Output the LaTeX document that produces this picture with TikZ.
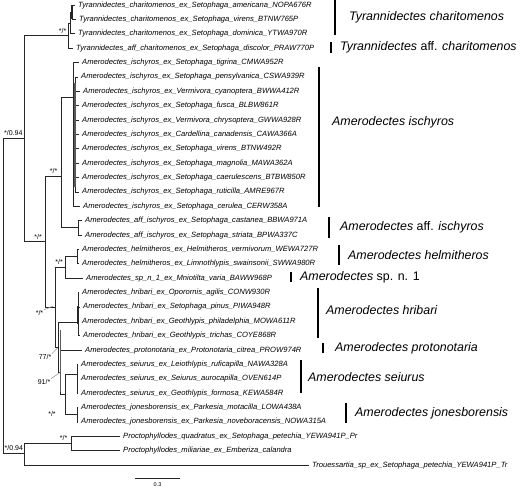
\documentclass[tikz,border=0pt]{standalone}
\usepackage{fontspec}
\setmainfont{Liberation Sans}
\begin{document}
\begin{tikzpicture}[x=1pt,y=-1pt,
  tree/.style={draw=black!85,line width=0.75pt},
  thickv/.style={draw=black!65,line width=1.6pt},
  leaf/.style={anchor=west,inner xsep=3pt,inner ysep=0pt,font=\fontsize{7.6}{9}\selectfont\itshape,text height=5.6pt,text depth=1.6pt},
  clade/.style={anchor=west,inner sep=0pt,font=\fontsize{12.4}{14}\selectfont\itshape},
  cbar/.style={draw=black,line width=1.4pt},
  sup/.style={inner sep=0.5pt,font=\fontsize{7}{8}\selectfont},
  lead/.style={draw=black!45,line width=0.5pt}]
\useasboundingbox (0,0) rectangle (520,488);
% ---- leaves
\node[leaf] (l1) at (75,5) {Tyrannidectes\_charitomenos\_ex\_Setophaga\_americana\_NOPA676R};
\node[leaf] (l2) at (76,19.4) {Tyrannidectes\_charitomenos\_ex\_Setophaga\_virens\_BTNW765P};
\node[leaf] (l3) at (75,33.8) {Tyrannidectes\_charitomenos\_ex\_Setophaga\_dominica\_YTWA970R};
\node[leaf] (l4) at (73,48.1) {Tyrannidectes\_aff\_charitomenos\_ex\_Setophaga\_discolor\_PRAW770P};
\node[leaf] (l5) at (79,62.5) {Amerodectes\_ischyros\_ex\_Setophaga\_tigrina\_CMWA952R};
\node[leaf] (l6) at (78,76.9) {Amerodectes\_ischyros\_ex\_Setophaga\_pensylvanica\_CSWA939R};
\node[leaf] (l7) at (80,91.3) {Amerodectes\_ischyros\_ex\_Vermivora\_cyanoptera\_BWWA412R};
\node[leaf] (l8) at (79,105.6) {Amerodectes\_ischyros\_ex\_Setophaga\_fusca\_BLBW861R};
\node[leaf] (l9) at (79,120) {Amerodectes\_ischyros\_ex\_Vermivora\_chrysoptera\_GWWA928R};
\node[leaf] (l10) at (79,134.4) {Amerodectes\_ischyros\_ex\_Cardellina\_canadensis\_CAWA366A};
\node[leaf] (l11) at (79,148.8) {Amerodectes\_ischyros\_ex\_Setophaga\_virens\_BTNW492R};
\node[leaf] (l12) at (79,163.1) {Amerodectes\_ischyros\_ex\_Setophaga\_magnolia\_MAWA362A};
\node[leaf] (l13) at (79,177.5) {Amerodectes\_ischyros\_ex\_Setophaga\_caerulescens\_BTBW850R};
\node[leaf] (l14) at (79,191.9) {Amerodectes\_ischyros\_ex\_Setophaga\_ruticilla\_AMRE967R};
\node[leaf] (l15) at (80,206.3) {Amerodectes\_ischyros\_ex\_Setophaga\_cerulea\_CERW358A};
\node[leaf] (l16) at (82,220.6) {Amerodectes\_aff\_ischyros\_ex\_Setophaga\_castanea\_BBWA971A};
\node[leaf] (l17) at (82,235) {Amerodectes\_aff\_ischyros\_ex\_Setophaga\_striata\_BPWA337C};
\node[leaf] (l18) at (79,249.4) {Amerodectes\_helmitheros\_ex\_Helmitheros\_vermivorum\_WEWA727R};
\node[leaf] (l19) at (79,263.8) {Amerodectes\_helmitheros\_ex\_Limnothlypis\_swainsonii\_SWWA980R};
\node[leaf] (l20) at (83,278.1) {Amerodectes\_sp\_n\_1\_ex\_Mniotilta\_varia\_BAWW968P};
\node[leaf] (l21) at (79,292.5) {Amerodectes\_hribari\_ex\_Oporornis\_agilis\_CONW930R};
\node[leaf] (l22) at (80,306.9) {Amerodectes\_hribari\_ex\_Setophaga\_pinus\_PIWA948R};
\node[leaf] (l23) at (79,321.3) {Amerodectes\_hribari\_ex\_Geothlypis\_philadelphia\_MOWA611R};
\node[leaf] (l24) at (80,335.6) {Amerodectes\_hribari\_ex\_Geothlypis\_trichas\_COYE868R};
\node[leaf] (l25) at (82,350) {Amerodectes\_protonotaria\_ex\_Protonotaria\_citrea\_PROW974R};
\node[leaf] (l26) at (78,364.4) {Amerodectes\_seiurus\_ex\_Leiothlypis\_ruficapilla\_NAWA328A};
\node[leaf] (l27) at (78,378.8) {Amerodectes\_seiurus\_ex\_Seiurus\_aurocapilla\_OVEN614P};
\node[leaf] (l28) at (78,393.1) {Amerodectes\_seiurus\_ex\_Geothlypis\_formosa\_KEWA584R};
\node[leaf] (l29) at (78,407.5) {Amerodectes\_jonesborensis\_ex\_Parkesia\_motacilla\_LOWA438A};
\node[leaf] (l30) at (78,421.9) {Amerodectes\_jonesborensis\_ex\_Parkesia\_noveboracensis\_NOWA315A};
\node[leaf] (l31) at (120,436.3) {Proctophyllodes\_quadratus\_ex\_Setophaga\_petechia\_YEWA941P\_Pr};
\node[leaf] (l32) at (120,450.6) {Proctophyllodes\_miliariae\_ex\_Emberiza\_calandra};
\node[leaf] (l33) at (309,465) {Trouessartia\_sp\_ex\_Setophaga\_petechia\_YEWA941P\_Tr};
% ---- internal nodes
\coordinate (R) at (3.3,295);
\coordinate (A) at (24,138.5);
\coordinate (B) at (24,453.5);
\coordinate (T) at (68,35.5);
\coordinate (Tc) at (70.5,23);
\coordinate (Tcc) at (72,12.2);
\coordinate (Am) at (45,241.5);
\coordinate (I) at (61,176);
\coordinate (Is) at (73,97);
\coordinate (I2) at (75,134);
\coordinate (Ia) at (78,227.8);
\coordinate (X) at (55,307);
\coordinate (H) at (65,267);
\coordinate (Hh) at (77,256.6);
\coordinate (Y) at (58,347);
\coordinate (Hr) at (78,322);
\coordinate (Z) at (60.5,372);
\coordinate (W) at (65,394);
\coordinate (Se) at (77,374);
\coordinate (Jo) at (77,414.7);
\coordinate (P) at (71,443.4);
% ---- branches
\draw[tree] (R) |- (A); \draw[tree] (R) |- (B);
\draw[tree] (A) |- (T); \draw[tree] (A) |- (Am);
\draw[tree] (T) |- (Tc); \draw[tree] (T) |- (l4.west);
\draw[tree] (Tc) |- (Tcc); \draw[tree] (Tc) |- (l3.west);
\draw[tree] (Tcc) |- (l1.west); \draw[tree] (Tcc) |- (l2.west);
\draw[tree,line width=1.4pt] (Tcc |- l1) -- (Tcc |- l2);
\draw[tree] (Am) |- (I); \draw[tree] (Am) |- (X);
\draw[tree] (I) |- (Is); \draw[tree] (I) |- (Ia);
\draw[tree] (Is) |- (l5.west); \draw[tree] (Is) |- (I2); \draw[tree] (Is) |- (l15.west);
\foreach \k in {6,...,14} {\draw[tree] (I2) |- (l\k.west);}
\draw[thickv] (75,83) -- (75,187);
\draw[tree] (Ia) |- (l16.west); \draw[tree] (Ia) |- (l17.west);
\draw[tree] (X) |- (H); \draw[tree] (X) |- (Y);
\draw[tree] (H) |- (Hh); \draw[tree] (H) |- (l20.west);
\draw[tree] (Hh) |- (l18.west); \draw[tree] (Hh) |- (l19.west);
\draw[tree] (Y) |- (Hr); \draw[tree] (Y) |- (Z);
\foreach \k in {21,...,24} {\draw[tree] (Hr) |- (l\k.west);}
\draw[tree,line width=1.5pt] (78,306) -- (78,324);
\draw[tree] (Z) |- (l25.west); \draw[tree] (Z) |- (W);
\draw[thickv] (60.5,330) -- (60.5,392);
\draw[tree] (W) |- (Se); \draw[tree] (W) |- (Jo);
\foreach \k in {26,27,28} {\draw[tree] (Se) |- (l\k.west);}
\draw[tree] (Jo) |- (l29.west); \draw[tree] (Jo) |- (l30.west);
\draw[tree] (B) |- (P); \draw[tree] (B) |- (l33.west);
\draw[tree] (P) |- (l31.west); \draw[tree] (P) |- (l32.west);
% ---- support values
\node[sup,anchor=south east] (s1) at (67,34) {*/*};
\node[sup,anchor=south west] (s2) at (3.5,136.5) {*/0.94};
\node[sup,anchor=south east] (s3) at (58,174.5) {*/*};
\node[sup,anchor=south east] (s4) at (42.5,240) {*/*};
\node[sup,anchor=south east] (s5) at (63.5,265.5) {*/*};
\node[sup] (s6) at (39.5,313) {*/*};
\node[sup] (s7) at (45,357) {77/*};
\node[sup] (s8) at (44,382) {91/*};
\node[sup] (s9) at (52,414) {*/*};
\node[sup,anchor=south east] (s10) at (68,441) {*/*};
\node[sup,anchor=south west] (s11) at (4,451.5) {*/0.94};
\coordinate (t6) at (53.5,306);
\coordinate (t7) at (57.5,348);
\coordinate (t8) at (60,372.5);
\draw[lead] (s6.north east) -- (t6);
\draw[lead] (s7.north east) -- (t7);
\draw[lead] (s8.north east) -- (t8);
% ---- clade bars and names
\draw[cbar] (335,0) -- (335,35);
\node[clade] (c1) at (349,17.5) {Tyrannidectes charitomenos};
\draw[cbar] (331,42) -- (331,53);
\node[clade] (c2) at (340,47.5) {Tyrannidectes {\upshape aff.} charitomenos};
\draw[cbar] (319,67) -- (319,207);
\node[clade] (c3) at (332,122.5) {Amerodectes ischyros};
\draw[cbar] (329,217) -- (329,238);
\node[clade] (c4) at (340,227) {Amerodectes {\upshape aff.} ischyros};
\draw[cbar] (339,245) -- (339,265);
\node[clade] (c5) at (348,255) {Amerodectes helmitheros};
\draw[cbar] (291,272) -- (291,282);
\node[clade] (c6) at (300,277) {Amerodectes {\upshape sp. n. 1}};
\draw[cbar] (318,288) -- (318,338);
\node[clade] (c7) at (326,310) {Amerodectes hribari};
\draw[cbar] (323,343) -- (323,353);
\node[clade] (c8) at (335,348) {Amerodectes protonotaria};
\draw[cbar] (301,360) -- (301,393);
\node[clade] (c9) at (308,377) {Amerodectes seiurus};
\draw[cbar] (346,403) -- (346,423);
\node[clade] (c10) at (355,413) {Amerodectes jonesborensis};
% ---- scale bar
\coordinate (sb1) at (135,478);
\coordinate (sb2) at (180,478);
\draw[tree] (sb1) -- (sb2);
\node[sup,font=\fontsize{5.5}{6}\selectfont] (sbl) at (157.5,485) {0.3};
\end{tikzpicture}
\end{document}
